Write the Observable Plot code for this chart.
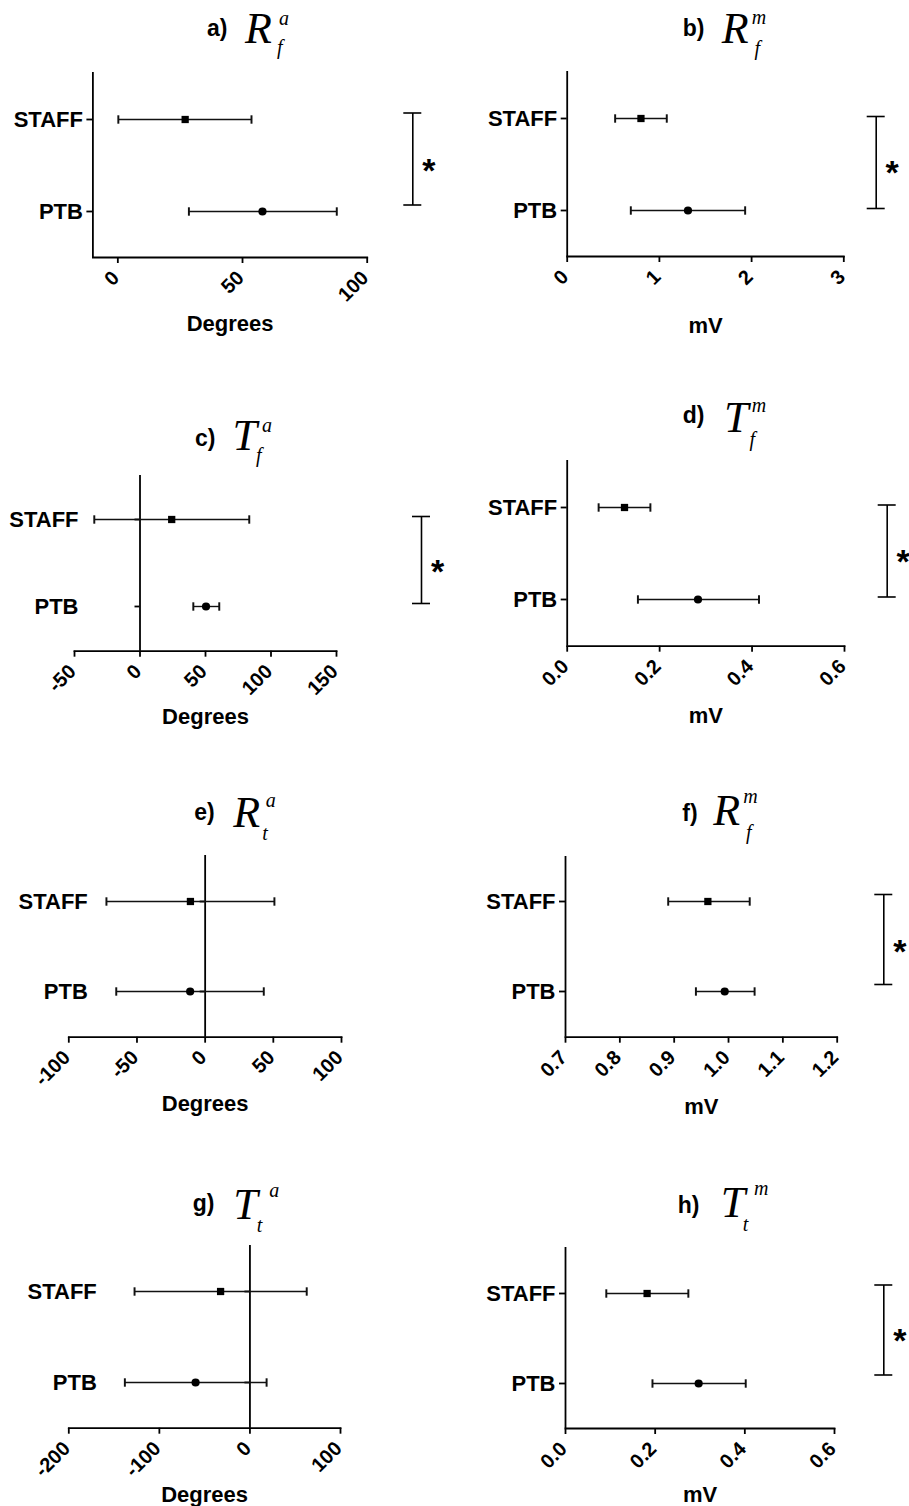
<!DOCTYPE html>
<html><head><meta charset="utf-8">
<script src="https://cdn.jsdelivr.net/npm/d3@7"></script>
<script src="https://cdn.jsdelivr.net/npm/@observablehq/plot@0.6"></script>
<style>
body{margin:0;background:#fff;overflow:hidden}
#wrap{position:relative;width:909px;height:1506px;background:#fff}
.pan{position:absolute}
.t{position:absolute;white-space:nowrap;line-height:1;color:#000;z-index:2}
.lab{font-family:'Liberation Sans',Arial,sans-serif;font-weight:bold}
.sym{font-family:'Liberation Serif','Times New Roman',serif;font-style:italic;font-weight:normal}
</style></head><body><div id="wrap"></div>
<script>
// ---------- data ----------
const panelIds = ["a","b","c","d","e","f","g","h"];
const groups = ["STAFF","PTB"];
const titleSymbols = ["R","R","T","T","R","R","T","T"];
const titleSup = ["a","m","a","m","a","m","a","m"];
const titleSub = ["f","f","f","f","t","f","t","t"];
const axisLabels = ["Degrees","mV","Degrees","mV","Degrees","mV","Degrees","mV"];
const staffMean = [27.0, 0.80, 24.2, 0.124, -10.8, 0.962, -32.4, 0.182];
const staffLow  = [0.2, 0.52, -34.9, 0.068, -72.4, 0.889, -127.4, 0.091];
const staffHigh = [53.6, 1.08, 83.4, 0.180, 50.8, 1.039, 62.7, 0.274];
const ptbMean   = [58.0, 1.31, 50.4, 0.283, -11.0, 0.993, -60.0, 0.297];
const ptbLow    = [28.5, 0.69, 40.7, 0.153, -65.2, 0.940, -138.1, 0.194];
const ptbHigh   = [87.8, 1.93, 60.5, 0.415, 43.0, 1.048, 18.4, 0.402];
const significant = [true, true, true, true, false, true, false, true];
const xDomains = [[-10,100],[0,3],[-50,150],[0,0.6],[-100,100],[0.7,1.2],[-200,100],[0,0.6]];
const xTicks = [[0,50,100],[0,1,2,3],[-50,0,50,100,150],[0,0.2,0.4,0.6],[-100,-50,0,50,100],[0.7,0.8,0.9,1.0,1.1,1.2],[-200,-100,0,100],[0,0.2,0.4,0.6]];
const xTickLabels = [["0","50","100"],["0","1","2","3"],["-50","0","50","100","150"],["0.0","0.2","0.4","0.6"],["-100","-50","0","50","100"],["0.7","0.8","0.9","1.0","1.1","1.2"],["-200","-100","0","100"],["0.0","0.2","0.4","0.6"]];

// ---------- layout (pixels) ----------
const layout = [
 {col:0, fL:92.4, fR:366.7, fT:72, fB:257, cross:false, labelDy:58, br:45.6, bDy:-6.5, astDy:1,
  tt:{lx:207, lb:36, sx:245, sb:44, px:279, pb:25, bx:277, bb:54}},
 {col:1, fL:566.7, fR:843.3, fT:71, fB:256, cross:false, labelDy:61, br:32.4, bDy:-2, astDy:4,
  tt:{lx:682.7, lb:36, sx:721.7, sb:44, px:751.7, pb:23.5, bx:754.5, bb:55}},
 {col:0, fL:74, fR:336, fT:475, fB:650.7, cross:true, yOff:4, labelDy:57, br:85, bDy:-3, astDy:4,
  tt:{lx:195, lb:446, sx:232.5, sb:451, px:262, pb:432, bx:256, bb:462}},
 {col:1, fL:566.7, fR:844, fT:460, fB:645.7, cross:false, labelDy:61, br:42.7, bDy:-2.5, astDy:4,
  tt:{lx:682.7, lb:423, sx:724, sb:433, px:751.7, pb:412, bx:749.5, bb:446}},
 {col:0, fL:68.3, fR:341, fT:855, fB:1036.7, cross:true, yOff:19, labelDy:58, br:0, bDy:0, astDy:0,
  tt:{lx:194.3, lb:820, sx:233.3, sb:828, px:265.7, pb:807, bx:262.3, bb:840}},
 {col:1, fL:565, fR:836.7, fT:856, fB:1036.7, cross:false, labelDy:61, br:46.6, bDy:-7, astDy:0,
  tt:{lx:682.3, lb:821, sx:713.3, sb:826, px:743.3, pb:803, bx:746, bb:839}},
 {col:0, fL:68.3, fR:340, fT:1245, fB:1427.7, cross:true, yOff:28, labelDy:58, br:0, bDy:0, astDy:0,
  tt:{lx:192.7, lb:1211, sx:233.3, sb:1220, px:269.3, pb:1197, bx:256.7, bb:1232}},
 {col:1, fL:565, fR:834, fT:1246.7, fB:1427.7, cross:false, labelDy:58, br:49.3, bDy:-8.5, astDy:-2,
  tt:{lx:677.7, lb:1213, sx:720.7, sb:1218, px:754, pb:1195, bx:742.7, bb:1231}}
];

const wrap = document.getElementById("wrap");
const SANS = 0.8465, SERIF = 0.8375;
function addText(txt, cls, x, base, size, k) {
  const el = document.createElement("div");
  el.className = "t " + cls;
  el.textContent = txt;
  el.style.left = x + "px";
  el.style.top = (base - k * size) + "px";
  el.style.fontSize = size + "px";
  wrap.appendChild(el);
}

function panel(i) {
  const L = layout[i];
  const colLeft = L.col ? 455 : 0, svgW = L.col ? 454 : 455;
  const svgTop = L.fT - 40, svgBottom = Math.min(1506, L.fB + 80);
  const [xmin, xmax] = xDomains[i];
  const data = [
    {group: groups[0], mean: staffMean[i], lo: staffLow[i], hi: staffHigh[i]},
    {group: groups[1], mean: ptbMean[i], lo: ptbLow[i], hi: ptbHigh[i]}
  ];
  const labelMap = new Map(xTicks[i].map((t, k) => [t, xTickLabels[i][k]]));
  const marks = [
    Plot.frame({anchor: "bottom", stroke: "#000", strokeWidth: 1.8}),
    Plot.axisX({ticks: xTicks[i], tickSize: 6, tickFormat: () => "", stroke: "#000", strokeWidth: 1.8, label: null}),
    Plot.axisX({ticks: xTicks[i], tickSize: 0, tickPadding: 17, tickRotate: -45, textAnchor: "end", lineAnchor: "middle",
                dx: -2, tickFormat: d => labelMap.get(d), fontSize: 20, fontWeight: "bold", fill: "#000", label: null}),
    Plot.text([axisLabels[i]], {frameAnchor: "bottom", dy: L.labelDy, lineAnchor: "top", fontSize: 22, fontWeight: "bold", fill: "#000"})
  ];
  if (!L.cross) {
    marks.push(Plot.ruleX([xmin], {stroke: "#000", strokeWidth: 1.8}));
    marks.push(Plot.axisY({tickSize: 6, tickPadding: 4, fontSize: 22, fontWeight: "bold", stroke: "#000", strokeWidth: 1.8, fill: "#000", label: null}));
  } else {
    marks.push(Plot.ruleX([0], {stroke: "#000", strokeWidth: 1.8}));
    marks.push(Plot.ruleY(groups, {y: d => d, x1: () => 0, x2: () => 0, insetLeft: -5, stroke: "#000", strokeWidth: 1.8}));
    marks.push(Plot.axisY({tickSize: 0, tickPadding: -L.yOff, fontSize: 22, fontWeight: "bold", fill: "#000", label: null}));
  }
  marks.push(Plot.link(data, {x1: "lo", x2: "hi", y1: "group", y2: "group", stroke: "#111", strokeWidth: 1.4,
                              markerStart: "tick", markerEnd: "tick"}));
  marks.push(Plot.dot(data, {x: "mean", y: "group", symbol: "group", fill: "#000", stroke: "none", r: 4.1}));
  if (significant[i]) {
    marks.push(Plot.link([0], {x1: () => xmax, x2: () => xmax, y1: () => groups[0], y2: () => groups[1],
                               dx: L.br, dy: L.bDy, stroke: "#000", strokeWidth: 1.6}));
    marks.push(Plot.ruleY(groups, {y: d => d, x1: () => xmax, x2: () => xmax, insetLeft: -9, insetRight: -9,
                               dx: L.br, dy: L.bDy, stroke: "#000", strokeWidth: 1.6}));
    marks.push(Plot.text(["*"], {x: () => xmax, frameAnchor: "middle", dx: L.br + 16, dy: 5 + L.astDy,
                               fontSize: 34, fontWeight: "bold", fill: "#000"}));
  }
  const svg = Plot.plot({
    width: svgW, height: svgBottom - svgTop,
    marginLeft: L.fL - colLeft, marginRight: colLeft + svgW - L.fR,
    marginTop: L.fT - svgTop, marginBottom: svgBottom - L.fB,
    x: {domain: xDomains[i], label: null},
    y: {type: "point", domain: groups, padding: 0.5, label: null},
    symbol: {domain: groups, range: ["square", "circle"]},
    style: {fontFamily: "'Liberation Sans', Arial, sans-serif", fontWeight: "bold", background: "transparent", overflow: "visible", color: "#000"},
    marks
  });
  const holder = document.createElement("div");
  holder.className = "pan";
  holder.style.left = colLeft + "px";
  holder.style.top = svgTop + "px";
  holder.appendChild(svg);
  wrap.appendChild(holder);

  const T = L.tt;
  addText(panelIds[i] + ")", "lab", T.lx, T.lb, 23, SANS);
  addText(titleSymbols[i], "sym", T.sx, T.sb, 44, SERIF);
  addText(titleSup[i], "sym", T.px, T.pb, 20, SERIF);
  addText(titleSub[i], "sym", T.bx, T.bb, 20, SERIF);
}
for (let i = 0; i < panelIds.length; i++) panel(i);
</script></body></html>
